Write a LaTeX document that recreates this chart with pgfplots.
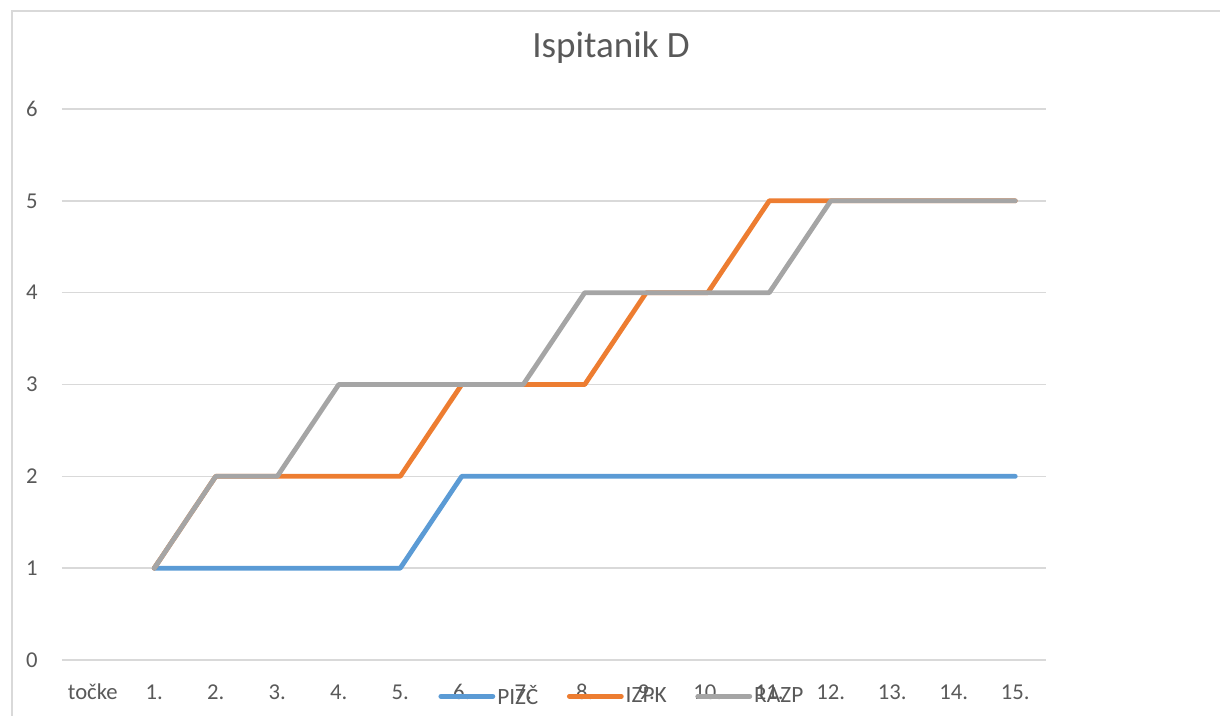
\documentclass[border=0pt]{standalone}
\usepackage{pgfplots}
\pgfplotsset{compat=1.18}
\usepackage{fontspec}
\setmainfont{Carlito}
\definecolor{txt}{HTML}{595959}
\definecolor{gridc}{HTML}{D9D9D9}
\definecolor{cblue}{HTML}{5B9BD5}
\definecolor{corange}{HTML}{ED7D31}
\definecolor{cgray}{HTML}{A5A5A5}
\begin{document}
\begin{tikzpicture}
\useasboundingbox (0,0) rectangle (915pt,537pt);
\draw[gridc, line width=1.1pt] (9pt,-20pt) -- (9pt,528.75pt) -- (940pt,528.75pt);
\begin{axis}[
  at={(46.5pt,42pt)}, anchor=south west,
  scale only axis, width=738pt, height=413.25pt,
  xmin=-0.5, xmax=15.5, ymin=0, ymax=6,
  xtick={0,...,15},
  xticklabels={točke,1.,2.,3.,4.,5.,6.,7.,8.,9.,10.,11.,12.,13.,14.,15.},
  ytick={0,...,6},
  major tick length=0pt,
  axis line style={draw=none},
  ymajorgrids, grid style={gridc, line width=1.1pt},
  /pgf/number format/assume math mode=true,
  tick label style={font=\fontsize{17}{20}\selectfont, text=txt, inner sep=0pt},
  xticklabel style={anchor=base, yshift=-29.5pt},
  yticklabel style={anchor=east, xshift=-18pt},
  title={Ispitanik D},
  title style={at={(0.558,1)}, anchor=base, yshift=32.25pt, font=\fontsize{27.8}{32}\selectfont, text=txt},
  legend columns=3,
  legend style={at={(0.569,-0.066)}, anchor=center, draw=none, fill=none,
    font=\fontsize{17.5}{20}\selectfont, text=txt,
    /tikz/every even column/.append style={column sep=20pt},
    nodes={inner sep=1.5pt}},
  legend image code/.code={\draw[#1, line cap=round] (0pt,0pt) -- (39pt,0pt);},
  clip=false,
]
\addplot[cblue, line width=3.6pt, line cap=round, line join=round] coordinates {
(1,1) (2,1) (3,1) (4,1) (5,1) (6,2) (7,2) (8,2) (9,2) (10,2) (11,2) (12,2) (13,2) (14,2) (15,2)};
\addlegendentry{PIZČ}
\addplot[corange, line width=3.6pt, line cap=round, line join=round] coordinates {
(1,1) (2,2) (3,2) (4,2) (5,2) (6,3) (7,3) (8,3) (9,4) (10,4) (11,5) (12,5) (13,5) (14,5) (15,5)};
\addlegendentry{IZPK}
\addplot[cgray, line width=3.6pt, line cap=round, line join=round] coordinates {
(1,1) (2,2) (3,2) (4,3) (5,3) (6,3) (7,3) (8,4) (9,4) (10,4) (11,4) (12,5) (13,5) (14,5) (15,5)};
\addlegendentry{RAZP}
\end{axis}
\end{tikzpicture}
\end{document}
